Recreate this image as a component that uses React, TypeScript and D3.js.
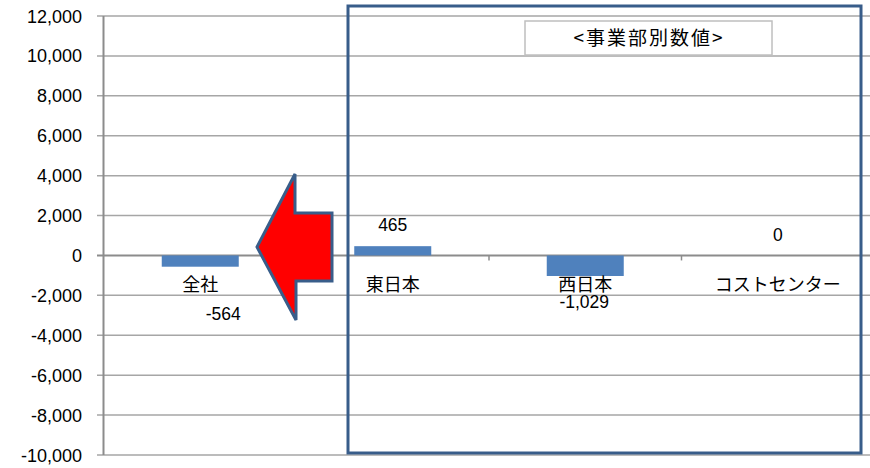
import { useEffect, useRef } from "react";
import * as d3 from "d3";

const categories = ["全社", "東日本", "西日本", "コストセンター"];
const values = [-564, 465, -1029, 0];
const valueLabels = ["-564", "465", "-1,029", "0"];
const yTicks = [12000, 10000, 8000, 6000, 4000, 2000, 0, -2000, -4000, -6000, -8000, -10000];
const title = "<事業部別数値>";

// where Excel put each data label, relative to the bar end
const labelOffsets: [number, number][] = [
  [23, 53],
  [0, -15],
  [-1, 32],
  [0, -14.5],
];

const W = 870;
const H = 468;
const jpFont = "'Noto Sans CJK JP', 'Liberation Sans', sans-serif";
const numFont = "'Liberation Sans', Arial, sans-serif";
// Excel writes a plain hyphen, not the unicode minus d3 uses
const fmt = (v: number) => d3.format(",")(v).replace("\u2212", "-");

const App = () => {
  const ref = useRef<SVGSVGElement>(null);

  useEffect(() => {
    const svg = d3.select(ref.current);
    svg.selectAll("*").remove();

    const y = d3.scaleLinear().domain([-10000, 12000]).range([455, 16]);

    // plot area runs a little past the right edge of the picture
    const x = d3
      .scaleBand()
      .domain(categories)
      .range([104, 874])
      .paddingInner(0.6)
      .paddingOuter(0.3);
    const step = x.step();
    const mid = (c: string) => (x(c) as number) + x.bandwidth() / 2;

    // gridlines
    svg
      .append("g")
      .selectAll("line")
      .data(yTicks)
      .join("line")
      .attr("x1", 97)
      .attr("x2", W)
      .attr("y1", (d) => y(d))
      .attr("y2", (d) => y(d))
      .attr("stroke", (d) => (d === 0 ? "#8c8c8c" : "#a6a6a6"))
      .attr("stroke-width", (d) => (d === 0 ? 2 : 1.5));

    // y axis line
    svg
      .append("line")
      .attr("x1", 103.5)
      .attr("x2", 103.5)
      .attr("y1", y(12000))
      .attr("y2", y(-10000))
      .attr("stroke", "#8c8c8c")
      .attr("stroke-width", 2);

    // y tick labels
    svg
      .append("g")
      .selectAll("text")
      .data(yTicks)
      .join("text")
      .attr("x", 82)
      .attr("y", (d) => y(d) + 6.5)
      .attr("text-anchor", "end")
      .attr("font-family", numFont)
      .attr("font-size", 18)
      .attr("fill", "#000")
      .text((d) => fmt(d));

    // category tick marks
    svg
      .append("g")
      .selectAll("line")
      .data(categories.slice(1))
      .join("line")
      .attr("x1", (d) => mid(d) - step / 2)
      .attr("x2", (d) => mid(d) - step / 2)
      .attr("y1", y(0))
      .attr("y2", y(0) + 5)
      .attr("stroke", "#8c8c8c")
      .attr("stroke-width", 1.5);

    // bars
    svg
      .append("g")
      .selectAll("rect")
      .data(values)
      .join("rect")
      .attr("x", (_, i) => x(categories[i]) as number)
      .attr("width", x.bandwidth())
      .attr("y", (d) => Math.min(y(d), y(0)))
      .attr("height", (d) => Math.abs(y(d) - y(0)))
      .attr("fill", "#4f81bd");

    // category labels
    svg
      .append("g")
      .selectAll("text")
      .data(categories)
      .join("text")
      .attr("x", (d) => mid(d))
      .attr("y", y(0) + 36)
      .attr("text-anchor", "middle")
      .attr("font-family", jpFont)
      .attr("font-size", 18)
      .attr("fill", "#000")
      .text((d) => d);

    // value labels
    svg
      .append("g")
      .selectAll("text")
      .data(values)
      .join("text")
      .attr("x", (_, i) => mid(categories[i]) + labelOffsets[i][0])
      .attr("y", (d, i) => y(d) + labelOffsets[i][1])
      .attr("text-anchor", "middle")
      .attr("font-family", numFont)
      .attr("font-size", 17.5)
      .attr("fill", "#000")
      .text((_, i) => valueLabels[i]);

    // big arrow pointing from the divisions to the company total
    const arrow = d3.path();
    arrow.moveTo(257, 247);
    arrow.lineTo(295, 174);
    arrow.lineTo(295, 213);
    arrow.lineTo(332, 213);
    arrow.lineTo(332, 281);
    arrow.lineTo(296, 281);
    arrow.lineTo(296, 320);
    arrow.closePath();
    svg
      .append("path")
      .attr("d", arrow.toString())
      .attr("fill", "#ff0000")
      .attr("stroke", "#385d8a")
      .attr("stroke-width", 3)
      .attr("stroke-linejoin", "miter");

    // division frame
    svg
      .append("rect")
      .attr("x", 348)
      .attr("y", 6)
      .attr("width", 513)
      .attr("height", 447)
      .attr("fill", "none")
      .attr("stroke", "#385d8a")
      .attr("stroke-width", 3);

    // title box
    svg
      .append("rect")
      .attr("x", 525)
      .attr("y", 21)
      .attr("width", 247)
      .attr("height", 34)
      .attr("fill", "#fff")
      .attr("stroke", "#bfbfbf")
      .attr("stroke-width", 1.5);

    svg
      .append("text")
      .attr("x", 649)
      .attr("y", 44.5)
      .attr("text-anchor", "middle")
      .attr("font-family", jpFont)
      .attr("font-size", 19)
      .attr("letter-spacing", 2)
      .attr("fill", "#000")
      .text(title);
  }, []);

  return (
    <div style={{ position: "absolute", left: 0, top: 0 }}>
      <svg ref={ref} width={W} height={H} style={{ display: "block", background: "#fff" }} />
    </div>
  );
};

export default App;
